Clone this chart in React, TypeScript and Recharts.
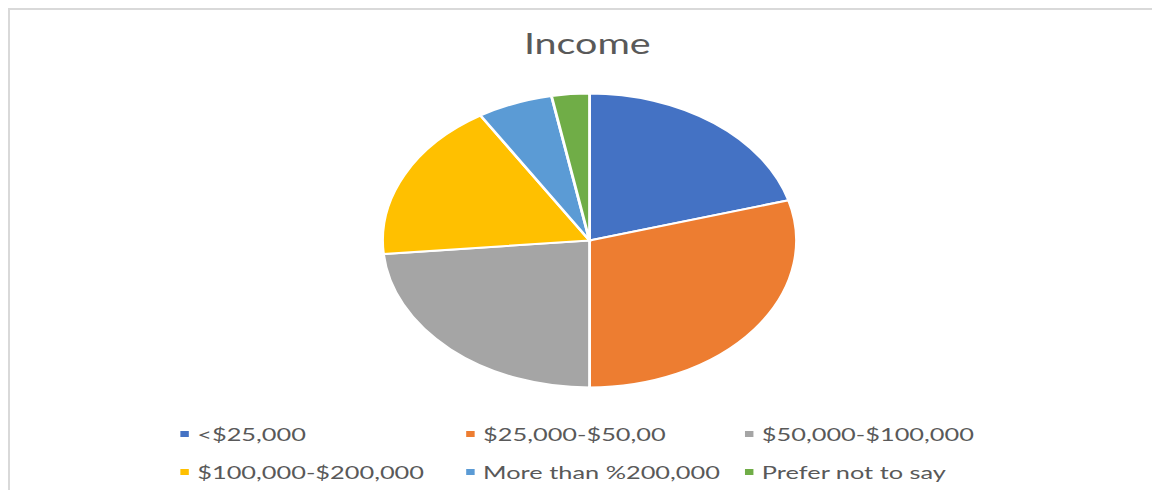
import { PieChart, Pie, Cell, Legend } from 'recharts'

const LABELS = [
  '<$25,000',
  '$25,000-$50,00',
  '$50,000-$100,000',
  '$100,000-$200,000',
  'More than %200,000',
  'Prefer not to say',
]
const COUNTS = [7, 10, 8, 6, 2, 1]
const COLORS = ['#4472C4', '#ED7D31', '#A5A5A5', '#FFC000', '#5B9BD5', '#70AD47']

// the reference is a horizontally stretched screenshot, so draw it round and stretch it
const STRETCH = 1.408
const FONT = 'Lato, "Liberation Sans", sans-serif'

const frameStyle = {
  position: 'relative' as const,
  width: 1144,
  height: 480,
  borderTop: '2px solid #d9d9d9',
  borderLeft: '2px solid #d9d9d9',
  overflow: 'hidden',
  background: '#fff',
  fontFamily: FONT,
}
const stretchStyle = {
  position: 'absolute' as const,
  left: 0,
  top: 0,
  width: 820,
  height: 480,
  transform: `scaleX(${STRETCH})`,
  transformOrigin: '0 0',
}
const titleStyle = {
  position: 'absolute' as const,
  left: 310,
  top: 19,
  width: 200,
  lineHeight: '28px',
  fontSize: 28,
  textAlign: 'center' as const,
  color: '#595959',
}
const legendWrap = { left: 0, top: 405, width: 820 }
const gridStyle = {
  display: 'grid',
  gridTemplateColumns: '203px 198px 220px',
  gridAutoRows: '38px',
  paddingLeft: 121,
  fontSize: 18,
  color: '#595959',
  fontFamily: FONT,
}
const itemStyle = { display: 'flex', alignItems: 'center', whiteSpace: 'nowrap' as const }

const renderLegend = (props: any) => {
  // keep the series order rather than the legend's alphabetical sort
  const items = [...(props.payload || [])].sort(
    (a: any, b: any) => LABELS.indexOf(a.value) - LABELS.indexOf(b.value),
  )
  return (
    <div style={gridStyle}>
      {items.map((it: any, i: number) => (
        <div key={i} style={itemStyle}>
          <span style={{ width: 6, height: 6, background: it.color, marginRight: 6, display: 'inline-block' }} />
          <span>{it.value}</span>
        </div>
      ))}
    </div>
  )
}

export default function App() {
  const data = LABELS.map((name, i) => ({ name, value: COUNTS[i] }))

  return (
    <div style={frameStyle}>
      <div style={stretchStyle}>
        <div style={titleStyle}>Income</div>
        <PieChart width={820} height={480} margin={{ top: 0, right: 0, bottom: 0, left: 0 }}>
          <Pie
            data={data}
            dataKey="value"
            nameKey="name"
            cx={411.6}
            cy={230.5}
            outerRadius={147}
            startAngle={90}
            endAngle={-270}
            stroke="#fff"
            strokeWidth={2}
            isAnimationActive={false}
          >
            {data.map((_, i) => <Cell key={i} fill={COLORS[i]} />)}
          </Pie>
          <Legend content={renderLegend} wrapperStyle={legendWrap} />
        </PieChart>
      </div>
    </div>
  )
}
